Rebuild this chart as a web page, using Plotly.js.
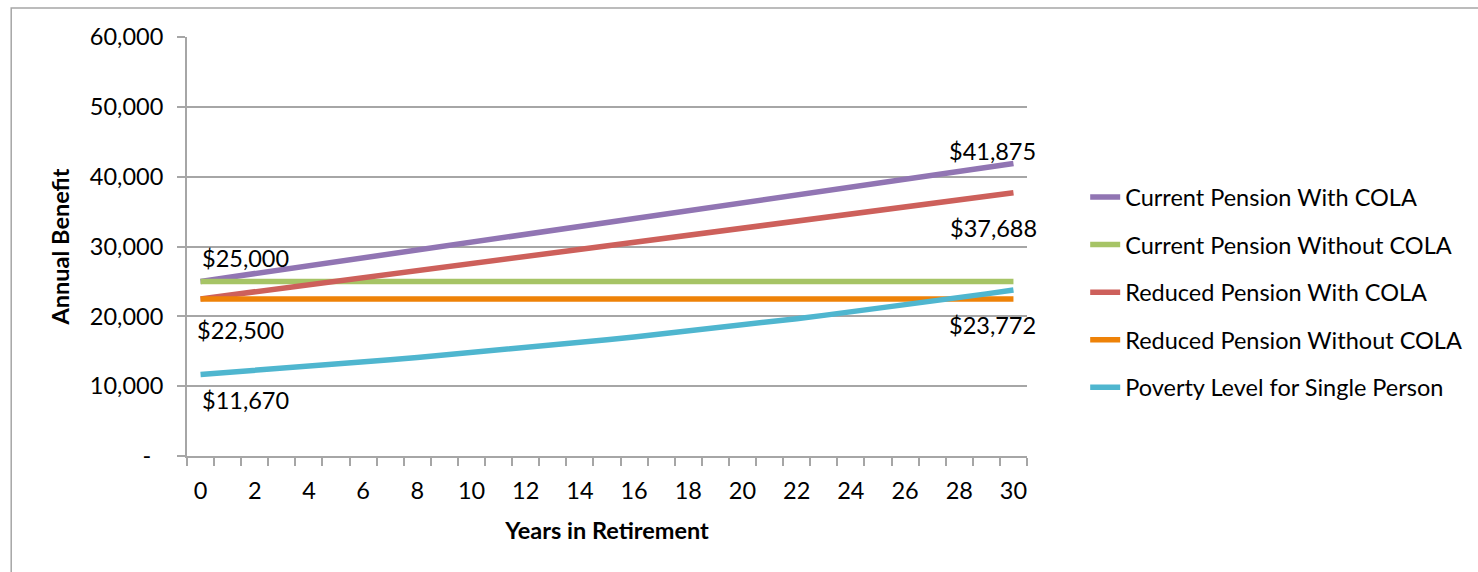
<!DOCTYPE html>
<html>
<head>
<meta charset="utf-8">
<script src="https://cdn.plot.ly/plotly-3.0.1.min.js"></script>
<style>html,body{margin:0;padding:0;background:#fff;}#chart{width:1478px;height:572px;}</style>
</head>
<body>
<div id="chart"></div>
<script>
var years = [0,1,2,3,4,5,6,7,8,9,10,11,12,13,14,15,16,17,18,19,20,21,22,23,24,25,26,27,28,29,30];
var seriesNames = ["Current Pension With COLA","Current Pension Without COLA","Reduced Pension With COLA","Reduced Pension Without COLA","Poverty Level for Single Person"];
var currentWithCola = [25000,25563,26125,26688,27250,27813,28375,28938,29500,30063,30625,31188,31750,32313,32875,33438,34000,34563,35125,35688,36250,36813,37375,37938,38500,39063,39625,40188,40750,41313,41875];
var currentWithoutCola = [25000,25000,25000,25000,25000,25000,25000,25000,25000,25000,25000,25000,25000,25000,25000,25000,25000,25000,25000,25000,25000,25000,25000,25000,25000,25000,25000,25000,25000,25000,25000];
var reducedWithCola = [22500,23006,23513,24019,24525,25031,25538,26044,26550,27056,27563,28069,28575,29081,29588,30094,30600,31106,31613,32119,32625,33131,33638,34144,34650,35156,35663,36169,36675,37181,37688];
var reducedWithoutCola = [22500,22500,22500,22500,22500,22500,22500,22500,22500,22500,22500,22500,22500,22500,22500,22500,22500,22500,22500,22500,22500,22500,22500,22500,22500,22500,22500,22500,22500,22500,22500];
var povertyLevel = [11670,11950,12237,12531,12831,13139,13455,13778,14108,14447,14793,15149,15512,15884,16266,16656,17056,17465,17884,18313,18753,19203,19664,20136,20619,21114,21621,22140,22671,23215,23772];
var yTickVals = [0,10000,20000,30000,40000,50000,60000];
var yTickText = ["-\u00a0\u00a0","10,000","20,000","30,000","40,000","50,000","60,000"];
var xTickVals = [0,2,4,6,8,10,12,14,16,18,20,22,24,26,28,30];
var dataLabels = [
  {x:0, y:25000, text:"$25,000", xa:"left", xs:-1, ys:23},
  {x:0, y:22500, text:"$22,500", xa:"left", xs:-6, ys:-31},
  {x:0, y:11670, text:"$11,670", xa:"left", xs:-1, ys:-25},
  {x:30, y:41875, text:"$41,875", xa:"right", xs:25, ys:13},
  {x:30, y:37688, text:"$37,688", xa:"right", xs:26, ys:-35},
  {x:30, y:23772, text:"$23,772", xa:"right", xs:25, ys:-35}
];

var colors = ["#9175B3","#A6C466","#CD605B","#EE8208","#4FB6CF"];
var allSeries = [currentWithCola,currentWithoutCola,reducedWithCola,reducedWithoutCola,povertyLevel];
var FONT = "Lato, Calibri, 'Liberation Sans', sans-serif";
var FS = 23.5;
var traces = allSeries.map(function(s,i){
  return {x:years, y:s, type:"scatter", mode:"lines", name:seriesNames[i],
    legendgroup:"g"+i, line:{color:colors[i], width:5.5}, hoverinfo:"skip"};
});
var gridC = "#A6A6A6";
var layout = {
  width:1478, height:572,
  margin:{l:187, r:450, t:37, b:116},
  paper_bgcolor:"#fff", plot_bgcolor:"#fff",
  font:{family:FONT, size:FS, color:"#000"},
  showlegend:true,
  legend:{x:1.068, xanchor:"left", y:0.67, yanchor:"top", font:{family:FONT,size:FS,color:"#000"},
    tracegroupgap:14, bgcolor:"rgba(0,0,0,0)", borderwidth:0},
  xaxis:{type:"linear", range:[-0.5,30.5], tickmode:"array", tickvals:xTickVals,
    ticks:"", showgrid:false, zeroline:false, showline:true, linecolor:gridC, linewidth:2,
    ticklabelstandoff:13, tickfont:{family:FONT,size:FS,color:"#000"},
    minor:{tick0:-0.5, dtick:1, ticks:"outside", ticklen:8, tickwidth:2, tickcolor:gridC, showgrid:false},
    title:{text:"<b>Years in Retirement</b>", font:{family:FONT,size:FS,color:"#000"}, standoff:19}},
  yaxis:{range:[0,60000], tickmode:"array", tickvals:yTickVals, ticktext:yTickText,
    ticks:"outside", ticklen:8, tickwidth:2, tickcolor:gridC,
    showgrid:true, gridcolor:gridC, gridwidth:2, zeroline:false, showline:true, linecolor:gridC, linewidth:2,
    ticklabelstandoff:9, tickfont:{family:FONT,size:FS,color:"#000"},
    title:{text:"<b>Annual Benefit</b>", font:{family:FONT,size:FS,color:"#000"}, standoff:14}},
  shapes:[{type:"rect", xref:"paper", yref:"paper", x0:(11-187)/841, x1:2, y0:-1, y1:(456-8)/419,
    line:{color:"#A6A6A6", width:1.5}, fillcolor:"rgba(0,0,0,0)", layer:"below"}],
  annotations: dataLabels.map(function(d){
    return {x:d.x, y:d.y, xref:"x", yref:"y", text:d.text, showarrow:false, xanchor:d.xa, yanchor:"middle",
      xshift:d.xs, yshift:d.ys, font:{family:FONT,size:FS,color:"#000"}};
  })
};
Plotly.newPlot("chart", traces, layout, {displayModeBar:false, staticPlot:true});
</script>
</body>
</html>
